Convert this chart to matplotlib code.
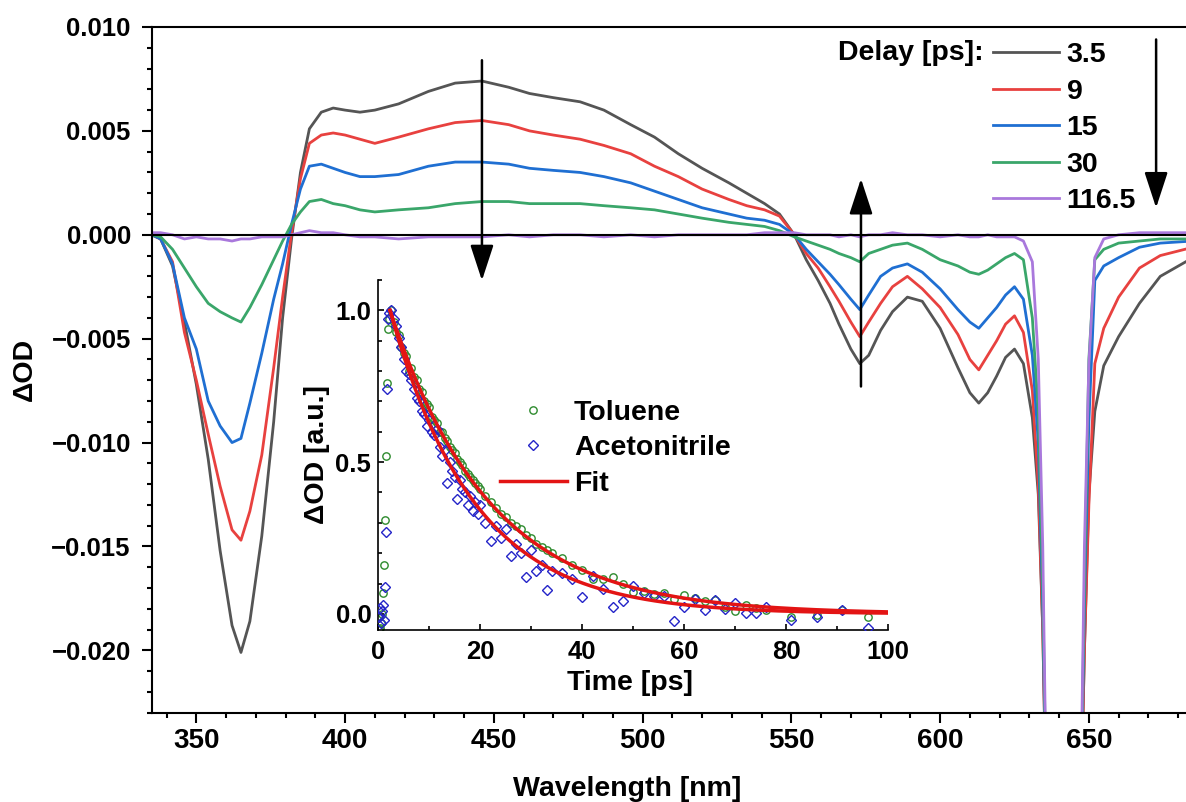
import matplotlib
matplotlib.use("Agg")
import matplotlib.pyplot as plt
from matplotlib.ticker import MultipleLocator, FuncFormatter, FormatStrFormatter
import numpy as np

plt.rcParams['font.family'] = ['Liberation Sans', 'DejaVu Sans']
plt.rcParams['font.weight'] = 'bold'
plt.rcParams['axes.labelweight'] = 'bold'

# ---------------- transient absorption spectra ----------------
wavelength = [335, 338, 342, 346, 350, 354, 358, 362, 365, 368,
              372, 376, 379, 382, 385, 388, 392, 396, 400, 405,
              410, 418, 428, 437, 446, 455, 462, 470, 479, 487,
              496, 504, 512, 520, 529, 535, 541, 546, 551, 555,
              559, 563, 566, 570, 573, 576, 580, 584, 589, 594,
              600, 606, 610, 613, 616, 619, 622, 625, 628, 631,
              633, 634.5, 636, 647, 648.5, 650, 652, 655, 660, 667,
              674, 685]

delays = ["3.5", "9", "15", "30", "116.5"]

od_3p5 = [0.0000, -0.0002, -0.0015, -0.0042, -0.0072, -0.0108, -0.0152, -0.0188, -0.0201, -0.0186,
          -0.0145, -0.0090, -0.0040, -0.0002, 0.0030, 0.0051, 0.0059, 0.0061, 0.0060, 0.0059,
          0.0060, 0.0063, 0.0069, 0.0073, 0.0074, 0.0071, 0.0068, 0.0066, 0.0064, 0.0060,
          0.0053, 0.0047, 0.0039, 0.0032, 0.0025, 0.0020, 0.0015, 0.0010, 0.0000, -0.0012,
          -0.0022, -0.0033, -0.0043, -0.0055, -0.0062, -0.0058, -0.0046, -0.0037, -0.0030, -0.0032,
          -0.0045, -0.0064, -0.0076, -0.0081, -0.0076, -0.0068, -0.0059, -0.0055, -0.0062, -0.0088,
          -0.0125, -0.0190, -0.0300, -0.0300, -0.0200, -0.0125, -0.0085, -0.0063, -0.0049, -0.0033,
          -0.0020, -0.0011]

od_9 = [0.0000, -0.0002, -0.0013, -0.0047, -0.0070, -0.0096, -0.0121, -0.0142, -0.0147, -0.0133,
        -0.0106, -0.0064, -0.0030, 0.0001, 0.0027, 0.0044, 0.0048, 0.0049, 0.0048, 0.0046,
        0.0044, 0.0047, 0.0051, 0.0054, 0.0055, 0.0053, 0.0050, 0.0048, 0.0046, 0.0043,
        0.0039, 0.0033, 0.0028, 0.0022, 0.0017, 0.0014, 0.0012, 0.0009, 0.0000, -0.0009,
        -0.0016, -0.0025, -0.0032, -0.0042, -0.0049, -0.0042, -0.0033, -0.0025, -0.0020, -0.0026,
        -0.0035, -0.0048, -0.0060, -0.0065, -0.0058, -0.0051, -0.0043, -0.0039, -0.0047, -0.0075,
        -0.0120, -0.0190, -0.0300, -0.0300, -0.0200, -0.0130, -0.0062, -0.0045, -0.0030, -0.0016,
        -0.0010, -0.0006]

od_15 = [0.0000, -0.0002, -0.0014, -0.0040, -0.0055, -0.0080, -0.0092, -0.0100, -0.0098, -0.0081,
         -0.0057, -0.0031, -0.0014, 0.0005, 0.0022, 0.0033, 0.0034, 0.0032, 0.0030, 0.0028,
         0.0028, 0.0029, 0.0033, 0.0035, 0.0035, 0.0034, 0.0032, 0.0031, 0.0030, 0.0028,
         0.0025, 0.0021, 0.0017, 0.0013, 0.0010, 0.0008, 0.0007, 0.0005, 0.0000, -0.0007,
         -0.0013, -0.0019, -0.0024, -0.0031, -0.0036, -0.0029, -0.0020, -0.0016, -0.0014, -0.0018,
         -0.0026, -0.0036, -0.0042, -0.0045, -0.0040, -0.0035, -0.0029, -0.0025, -0.0031, -0.0058,
         -0.0100, -0.0180, -0.0300, -0.0300, -0.0180, -0.0090, -0.0022, -0.0015, -0.0011, -0.0006,
         -0.0004, -0.0003]

od_30 = [0.0000, -0.0001, -0.0007, -0.0016, -0.0025, -0.0033, -0.0037, -0.0040, -0.0042, -0.0035,
         -0.0024, -0.0012, -0.0003, 0.0005, 0.0011, 0.0016, 0.0017, 0.0015, 0.0014, 0.0012,
         0.0011, 0.0012, 0.0013, 0.0015, 0.0016, 0.0016, 0.0015, 0.0015, 0.0015, 0.0014,
         0.0013, 0.0012, 0.0010, 0.0008, 0.0006, 0.0005, 0.0004, 0.0002, -0.0001, -0.0003,
         -0.0005, -0.0007, -0.0009, -0.0011, -0.0013, -0.0009, -0.0007, -0.0005, -0.0004, -0.0007,
         -0.0012, -0.0015, -0.0018, -0.0019, -0.0017, -0.0014, -0.0011, -0.0009, -0.0012, -0.0040,
         -0.0085, -0.0170, -0.0300, -0.0300, -0.0170, -0.0060, -0.0012, -0.0007, -0.0004, -0.0003,
         -0.0002, -0.0002]

od_116p5 = [0.0001, 0.0001, 0.0000, -0.0002, -0.0001, -0.0002, -0.0002, -0.0003, -0.0002, -0.0002,
            -0.0001, -0.0001, -0.0001, 0.0000, 0.0001, 0.0002, 0.0001, 0.0001, 0.0000, -0.0001,
            -0.0001, -0.0002, -0.0001, -0.0001, -0.0001, 0.0000, -0.0001, 0.0000, 0.0000, -0.0001,
            0.0000, -0.0001, 0.0000, 0.0000, 0.0000, 0.0000, 0.0001, 0.0001, 0.0001, 0.0000,
            0.0000, 0.0000, -0.0001, 0.0000, -0.0001, 0.0000, 0.0000, 0.0001, 0.0000, 0.0000,
            -0.0001, 0.0000, -0.0001, -0.0001, 0.0000, -0.0001, -0.0001, -0.0001, -0.0003, -0.0013,
            -0.0060, -0.0150, -0.0300, -0.0300, -0.0150, -0.0062, -0.0011, -0.0002, 0.0000, 0.0001,
            0.0001, 0.0001]

spectra = [od_3p5, od_9, od_15, od_30, od_116p5]
spectra_colors = ["#555555", "#e8413f", "#1f6fd2", "#3aa66a", "#a978dc"]

# ---------------- kinetics (inset) ----------------
time_ps = [0.1, 0.3, 0.5, 0.7, 0.9, 1.1, 1.3, 1.5, 1.7, 1.9,
           2.0, 2.5, 3.0, 3.5, 4.0, 4.5, 5.0, 5.5, 6.0, 6.5,
           7.0, 7.5, 8.0, 8.5, 9.0, 9.5, 10.0, 10.5, 11.0, 11.5,
           12.0, 12.5, 13.0, 13.5, 14.0, 14.5, 15.0, 15.5, 16.0, 16.5,
           17.0, 17.5, 18.0, 18.5, 19.0, 19.5, 20.0,
           21, 22, 23, 24, 25, 26, 27, 28, 29, 30, 31, 32, 33, 34,
           36, 38, 40, 42, 44, 46, 48, 50, 52, 54, 56, 58, 60, 62, 64, 66, 68, 70, 72, 74, 76,
           81, 86, 91, 96]

toluene = [-0.05, -0.045, -0.03, 0.00, 0.07, 0.16, 0.31, 0.52, 0.76, 0.94,
           0.97, 1.00, 0.96, 0.93, 0.92, 0.88, 0.86, 0.85, 0.80, 0.81,
           0.78, 0.77, 0.74, 0.73, 0.70, 0.69, 0.68, 0.65, 0.64, 0.63,
           0.60, 0.60, 0.58, 0.57, 0.55, 0.54, 0.53, 0.51, 0.50, 0.49,
           0.47, 0.46, 0.45, 0.44, 0.43, 0.42, 0.41,
           0.39, 0.37, 0.35, 0.33, 0.32, 0.30, 0.29, 0.28, 0.26, 0.25, 0.23, 0.22, 0.21, 0.20,
           0.185, 0.16, 0.145, 0.115, 0.114, 0.12, 0.10, 0.072, 0.076, 0.066, 0.068, 0.05,
           0.061, 0.052, 0.042, 0.045, 0.024, 0.011, 0.031, 0.02, 0.012,
           -0.009, -0.005, 0.012, -0.01]

acetonitrile = [-0.01, 0.02, -0.03, 0.01, 0.03, -0.02, 0.09, 0.27, 0.74, 0.97,
                0.99, 1.00, 0.97, 0.95, 0.91, 0.88, 0.84, 0.80, 0.79, 0.77,
                0.74, 0.71, 0.70, 0.67, 0.66, 0.62, 0.64, 0.60, 0.59, 0.61,
                0.55, 0.52, 0.54, 0.43, 0.50, 0.47, 0.45, 0.38, 0.44, 0.41,
                0.40, 0.36, 0.39, 0.34, 0.37, 0.33, 0.36,
                0.30, 0.24, 0.29, 0.25, 0.28, 0.19, 0.23, 0.20, 0.12, 0.21, 0.14, 0.16, 0.08, 0.14,
                0.134, 0.115, 0.055, 0.125, 0.081, 0.024, 0.041, 0.092, 0.068, 0.06, 0.06, -0.023,
                0.024, 0.048, 0.013, 0.046, 0.015, 0.037, 0.002, 0.002, 0.024,
                -0.02, -0.009, 0.013, -0.045]

# mono-exponential fits: onset time and lifetime (ps)
fit_t0 = 2.3
fit_tau_toluene = 19.5
fit_tau_acetonitrile = 16.5

# ---------------- figure ----------------
W, H = 1186, 802
fig = plt.figure(figsize=(W / 100, H / 100), dpi=100)


def px_rect(left, top, right, bottom):
    return [left / W, 1 - bottom / H, (right - left) / W, (bottom - top) / H]


ax = fig.add_axes(px_rect(151.7, 27, 1193, 712.7))
for vals, col, lab in zip(spectra, spectra_colors, delays):
    ax.plot(wavelength, vals, color=col, lw=2.0, label=lab, zorder=2)
ax.axhline(0, color="black", lw=1.5, zorder=3)

ax.set_xlim(335, 685)
ax.set_ylim(-0.0230, 0.010)
ax.xaxis.set_major_locator(MultipleLocator(50))
ax.xaxis.set_minor_locator(MultipleLocator(10))
ax.yaxis.set_major_locator(MultipleLocator(0.005))
ax.yaxis.set_minor_locator(MultipleLocator(0.001))


def fmt_od(v, pos):
    v = round(v, 6)
    if v == 0:
        v = 0.0
    return f"{v:.3f}".replace("-", "\u2212")


ax.yaxis.set_major_formatter(FuncFormatter(fmt_od))
ax.tick_params(which="both", direction="out", top=False, right=False, width=1.5)
ax.tick_params(which="major", length=7)
ax.tick_params(which="minor", length=3.5)
ax.tick_params(axis="x", which="major", labelsize=20, pad=4)
ax.tick_params(axis="y", which="major", labelsize=18.5, pad=8)
for side in ("left", "bottom", "top"):
    ax.spines[side].set_linewidth(1.5)
ax.spines["right"].set_visible(False)

# arrows showing the evolution with delay
arrow_kw = dict(arrowstyle="-|>,head_length=1.1,head_width=0.36", mutation_scale=20,
                lw=1.8, color="black", shrinkA=0, shrinkB=0)
ax.annotate("", xy=(446, -0.0022), xytext=(446, 0.0084), arrowprops=arrow_kw, zorder=5)
ax.annotate("", xy=(573.4, 0.0027), xytext=(573.4, -0.0073), arrowprops=arrow_kw, zorder=5)
ax.annotate("", xy=(672.6, 0.0013), xytext=(672.6, 0.0094), arrowprops=arrow_kw, zorder=5)

leg = ax.legend(loc="upper left", bbox_to_anchor=(993 / W, 1 - 42 / H),
                bbox_transform=fig.transFigure, frameon=False,
                prop={"size": 20.5, "weight": "bold"}, handlelength=2.32,
                handletextpad=0.27, labelspacing=0.37, borderpad=0, borderaxespad=0)
fig.text(984 / W, 1 - 53.5 / H, "Delay [ps]:", ha="right", va="center",
         fontsize=20.5, fontweight="bold")

fig.text(627.5 / W, 1 - 796 / H, "Wavelength [nm]", ha="center", va="baseline",
         fontsize=20.5, fontweight="bold")
fig.text(25 / W, 1 - 369.8 / H, "\u0394OD", ha="center", va="center", rotation=90,
         fontsize=20.5, fontweight="bold")

# ---------------- inset ----------------
axin = fig.add_axes(px_rect(378.3, 280, 888.3, 630))
axin.patch.set_alpha(0)
axin.plot(time_ps, toluene, ls="none", marker="o", ms=5.3, mfc="none", mec="#2e8b2e",
          mew=1.0, label="Toluene", zorder=2)
axin.plot(time_ps, acetonitrile, ls="none", marker="D", ms=5.0, mfc="none", mec="#2424c8",
          mew=1.0, label="Acetonitrile", zorder=3)
t_fit = np.linspace(fit_t0, 100, 300)
axin.plot(t_fit, np.exp(-(t_fit - fit_t0) / fit_tau_toluene), color="#e31414", lw=2.5,
          label="Fit", zorder=4)
axin.plot(t_fit, np.exp(-(t_fit - fit_t0) / fit_tau_acetonitrile), color="#e31414", lw=2.5,
          zorder=4)

axin.set_xlim(0, 100)
axin.set_ylim(-0.053, 1.10)
axin.xaxis.set_major_locator(MultipleLocator(20))
axin.xaxis.set_minor_locator(MultipleLocator(10))
axin.yaxis.set_major_locator(MultipleLocator(0.5))
axin.yaxis.set_minor_locator(MultipleLocator(0.1))
axin.yaxis.set_major_formatter(FormatStrFormatter("%.1f"))
axin.tick_params(which="both", direction="in", width=1.2, top=False, right=False)
axin.tick_params(which="major", length=4, labelsize=18.5)
axin.tick_params(axis="x", which="major", pad=7)
axin.tick_params(axis="y", which="major", pad=5)
axin.tick_params(which="minor", length=3)
axin.spines["top"].set_visible(False)
axin.spines["right"].set_visible(False)
axin.spines["left"].set_linewidth(1.2)
axin.spines["bottom"].set_linewidth(1.2)

axin.legend(loc="upper left", bbox_to_anchor=(500 / W, 1 - 400 / H),
            bbox_transform=fig.transFigure, frameon=False,
            prop={"size": 20.5, "weight": "bold"}, handlelength=2.35,
            handletextpad=0.25, labelspacing=0.33, borderpad=0, borderaxespad=0,
            numpoints=1)
fig.text(630.5 / W, 1 - 690 / H, "Time [ps]", ha="center", va="baseline",
         fontsize=20.5, fontweight="bold")
fig.text(316.7 / W, 1 - 455 / H, "\u0394OD [a.u.]", ha="center", va="center", rotation=90,
         fontsize=20.5, fontweight="bold")

fig.savefig("out.png", dpi=100)
